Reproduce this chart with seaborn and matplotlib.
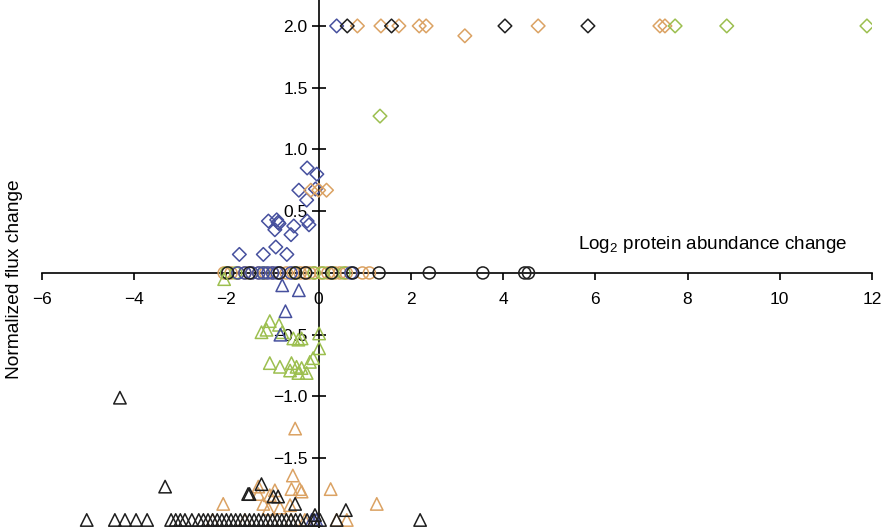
import numpy as np
import pandas as pd
import seaborn as sns
import matplotlib.pyplot as plt

# ---- data (x = log2 abundance change, y = normalized flux change)
# diamonds (flux up)
up_blue_x = [0.39, -0.25, -0.04, -0.43, -0.07, -0.26, -1.09, -0.91, -0.86, -0.95, -0.54, -0.25, -0.21, -0.60,
             -1.72, -1.20, -0.93, -0.69, -0.88]
up_blue_y = [2.0, 0.85, 0.80, 0.67, 0.68, 0.59, 0.42, 0.43, 0.40, 0.35, 0.38, 0.42, 0.39, 0.31,
             0.15, 0.15, 0.21, 0.15, 0.41]
up_orange_x = [0.84, 1.35, 1.74, 2.18, 2.33, 3.17, 4.76, 7.40, 7.51, -0.17, 0.0, 0.17]
up_orange_y = [2.0, 2.0, 2.0, 2.0, 2.0, 1.92, 2.0, 2.0, 2.0, 0.67, 0.67, 0.67]
up_green_x = [7.73, 8.85, 11.89, 1.33]
up_green_y = [2.0, 2.0, 2.0, 1.27]
up_black_x = [0.62, 1.58, 4.04, 5.84]
up_black_y = [2.0, 2.0, 2.0, 2.0]

# circles (no flux change)
zero_black_x = [-1.97, -1.50, -0.85, -0.50, -0.28, 0.28, 0.74, 1.31, 2.40, 3.56, 4.47, 4.55]
zero_orange_x = [-2.05, -1.9, -1.75, -1.6, -1.45, -1.3, -1.15, -1.0, -0.85, -0.7, -0.55, -0.4,
                 -0.3, -0.2, -0.1, 0.05, 0.2, 0.35, 0.46, 0.6, 0.95, 1.1]
zero_blue_x = [-1.75, -1.6, -1.45, -1.3, -1.2, -1.1, -1.0, -0.9, -0.6, 0.7]
zero_green_x = [-2.0, -1.8, -1.2, -0.5, -0.1, 0.1, 0.3, 0.55]

# triangles (flux down)
down_blue_x = [-0.79, -0.43, -0.72, -0.83, -0.15, -0.05]
down_blue_y = [-0.10, -0.14, -0.31, -0.50, -2.0, -2.0]
down_green_x = [-1.24, -1.06, -1.13, -0.86, -0.79, -0.55, -0.44, -0.37, 0.01, 0.01, -1.06, -0.84,
                -0.59, -0.48, -0.37, -0.19, -0.12, -0.44, -0.26, -0.62, -2.05]
down_green_y = [-0.48, -0.39, -0.46, -0.42, -0.48, -0.53, -0.54, -0.53, -0.49, -0.61, -0.73, -0.76,
                -0.73, -0.76, -0.77, -0.72, -0.69, -0.81, -0.81, -0.79, -0.05]
down_orange_x = [-0.51, -0.56, -0.59, -0.41, -0.37, 0.26, 1.26, -1.31, -0.95, -1.06, -1.20, -0.62,
                 -1.09, -0.84, -2.07, -1.31, 0.39, 0.61, -2.3, -1.6, -1.0, -0.6, -0.3]
down_orange_y = [-1.26, -1.64, -1.75, -1.75, -1.77, -1.75, -1.87, -1.79, -1.76, -1.80, -1.87, -1.88,
                 -1.91, -1.90, -1.87, -1.73, -2.0, -2.0, -2.0, -2.0, -2.0, -2.0, -2.0]
down_black_x = [-4.31, -3.33, -1.53, -1.50, -1.24, -0.98, -0.88, -0.51, 0.59, -0.08,
                -5.03, -4.42, -4.20, -3.96, -3.72, -3.2, -3.1, -3.0, -2.9, -2.75, -2.6, -2.5, -2.4,
                -2.3, -2.2, -2.1, -2.0, -1.9, -1.8, -1.7, -1.6, -1.5, -1.4, -1.3, -1.2, -1.1, -1.0,
                -0.9, -0.8, -0.7, -0.6, -0.5, -0.4, -0.25, -0.1, 0.03, 0.39, 2.2]
down_black_y = [-1.01, -1.73, -1.79, -1.79, -1.71, -1.81, -1.81, -1.87, -1.92, -1.96] + [-2.0] * 38

colors = {'blue': '#46509e', 'orange': '#dba263', 'green': '#9cbf4f', 'black': '#1e1e1e'}

rows = []
def add(xs, ys, grp, kind):
    for a, b in zip(xs, ys):
        rows.append((a, b, grp, kind))

add(up_blue_x, up_blue_y, 'blue', 'up')
add(up_orange_x, up_orange_y, 'orange', 'up')
add(up_green_x, up_green_y, 'green', 'up')
add(up_black_x, up_black_y, 'black', 'up')
add(zero_orange_x, [0] * len(zero_orange_x), 'orange', 'zero')
add(zero_green_x, [0] * len(zero_green_x), 'green', 'zero')
add(zero_blue_x, [0] * len(zero_blue_x), 'blue', 'zero')
add(zero_black_x, [0] * len(zero_black_x), 'black', 'zero')
add(down_green_x, down_green_y, 'green', 'down')
add(down_orange_x, down_orange_y, 'orange', 'down')
add(down_blue_x, down_blue_y, 'blue', 'down')
add(down_black_x, down_black_y, 'black', 'down')
df = pd.DataFrame(rows, columns=['x', 'y', 'grp', 'kind'])

sns.set_style('white')
plt.rcParams['font.family'] = ['Liberation Sans', 'DejaVu Sans']
plt.rcParams.update({'xtick.bottom': True, 'ytick.left': True,
                     'xtick.major.size': 5, 'ytick.major.size': 10,
                     'xtick.major.width': 1.2, 'ytick.major.width': 1.2,
                     'xtick.color': 'black', 'ytick.color': 'black',
                     'xtick.labelcolor': 'black', 'ytick.labelcolor': 'black',
                     'text.color': 'black',
                     'xtick.direction': 'out', 'ytick.direction': 'inout'})

fig = plt.figure(figsize=(8.84, 5.28), dpi=100)
ax = fig.add_axes([42 / 884, 0, 830 / 884, 1])

sns.scatterplot(data=df, x='x', y='y', hue='grp', style='kind', size='kind', palette=colors,
                markers={'up': 'D', 'zero': 'o', 'down': '^'},
                sizes={'up': 48, 'zero': 75, 'down': 80},
                linewidth=1.1, legend=False, ax=ax, zorder=3)
for coll in ax.collections:
    coll.set_edgecolor(coll.get_facecolor())
    coll.set_facecolor('none')

ax.set_xlim(-6, 12)
ax.set_ylim(-2.065, 2.21)

ax.spines['left'].set_position(('data', 0))
ax.spines['bottom'].set_position(('data', 0))
ax.spines['top'].set_visible(False)
ax.spines['right'].set_visible(False)
for sp in ['left', 'bottom']:
    ax.spines[sp].set_color('black')
    ax.spines[sp].set_linewidth(1.2)

ax.set_xticks([-6, -4, -2, 0, 2, 4, 6, 8, 10, 12])
ax.set_yticks([-1.5, -1.0, -0.5, 0.5, 1.0, 1.5, 2.0])
ax.set_yticklabels(['\u22121.5', '\u22121.0', '\u22120.5', '0.5', '1.0', '1.5', '2.0'])
ax.set_xticklabels(['\u22126', '\u22124', '\u22122', '0', '2', '4', '6', '8', '10', '12'])
ax.tick_params(axis='x', bottom=True, pad=9, labelsize=12.5)
ax.tick_params(axis='y', left=True, pad=3, labelsize=12.5)

ax.set_xlabel('')
ax.set_ylabel('')
ax.text(5.62, 0.23, 'Log$_{\\mathregular{2}}$ protein abundance change', fontsize=13.6,
        ha='left', va='center')
fig.text(15 / 884, 1 - 279 / 528, 'Normalized flux change', rotation=90, fontsize=13.8,
         ha='center', va='center')

fig.savefig('out.png', dpi=100)
